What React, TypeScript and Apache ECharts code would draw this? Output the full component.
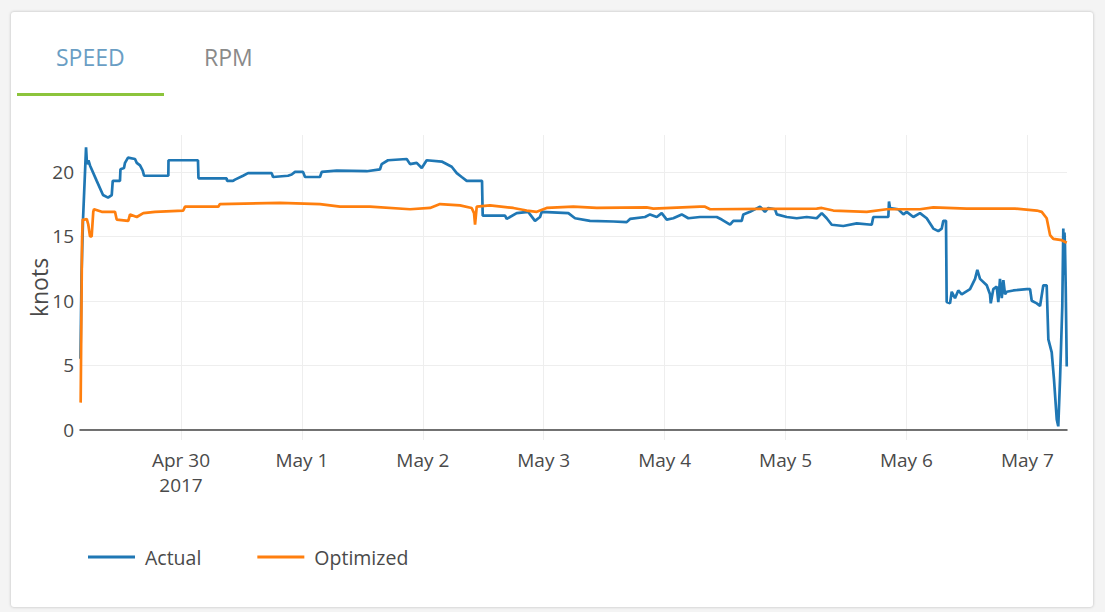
import React, { useEffect, useRef } from "react";
import * as echarts from "echarts";

const tabs = ["SPEED", "RPM"];
const yAxisTitle = "knots";
const seriesNames = ["Actual", "Optimized"];
const firstYear = "2017";
const xMin = "2017-04-29 03:57";
const xMax = "2017-05-07 07:52";
const yMin = -0.8;
const yMax = 22.86;
const monthNames = ["Jan", "Feb", "Mar", "Apr", "May", "Jun", "Jul", "Aug", "Sep", "Oct", "Nov", "Dec"];

const actual: [string, number][] = [
  ["2017-04-29 04:03", 5.5],
  ["2017-04-29 04:15", 12.0],
  ["2017-04-29 04:33", 16.3],
  ["2017-04-29 05:09", 21.9],
  ["2017-04-29 05:20", 20.6],
  ["2017-04-29 05:38", 20.9],
  ["2017-04-29 05:56", 20.5],
  ["2017-04-29 07:16", 19.3],
  ["2017-04-29 08:31", 18.2],
  ["2017-04-29 09:31", 18.0],
  ["2017-04-29 10:15", 18.2],
  ["2017-04-29 10:27", 19.3],
  ["2017-04-29 11:53", 19.3],
  ["2017-04-29 11:59", 20.2],
  ["2017-04-29 12:41", 20.3],
  ["2017-04-29 12:53", 20.7],
  ["2017-04-29 13:29", 21.1],
  ["2017-04-29 14:52", 21.0],
  ["2017-04-29 15:13", 20.7],
  ["2017-04-29 15:52", 20.5],
  ["2017-04-29 16:24", 20.1],
  ["2017-04-29 16:40", 19.7],
  ["2017-04-29 21:29", 19.7],
  ["2017-04-29 21:31", 20.9],
  ["2017-04-30 03:22", 20.9],
  ["2017-04-30 03:28", 19.5],
  ["2017-04-30 09:04", 19.5],
  ["2017-04-30 09:08", 19.3],
  ["2017-04-30 10:19", 19.3],
  ["2017-04-30 10:43", 19.4],
  ["2017-04-30 12:19", 19.7],
  ["2017-04-30 13:18", 19.9],
  ["2017-04-30 18:00", 19.9],
  ["2017-04-30 18:16", 19.6],
  ["2017-04-30 21:14", 19.7],
  ["2017-04-30 21:58", 19.8],
  ["2017-04-30 22:38", 20.0],
  ["2017-05-01 00:13", 20.0],
  ["2017-05-01 00:37", 19.6],
  ["2017-05-01 03:35", 19.6],
  ["2017-05-01 03:56", 20.0],
  ["2017-05-01 06:55", 20.1],
  ["2017-05-01 12:52", 20.05],
  ["2017-05-01 15:30", 20.2],
  ["2017-05-01 15:50", 20.6],
  ["2017-05-01 17:05", 20.9],
  ["2017-05-01 20:48", 21.0],
  ["2017-05-01 21:28", 20.6],
  ["2017-05-01 22:47", 20.7],
  ["2017-05-01 23:47", 20.3],
  ["2017-05-02 00:46", 20.9],
  ["2017-05-02 03:45", 20.8],
  ["2017-05-02 05:44", 20.4],
  ["2017-05-02 06:44", 19.9],
  ["2017-05-02 07:43", 19.6],
  ["2017-05-02 08:43", 19.3],
  ["2017-05-02 11:45", 19.3],
  ["2017-05-02 11:53", 16.6],
  ["2017-05-02 16:19", 16.6],
  ["2017-05-02 16:39", 16.35],
  ["2017-05-02 18:38", 16.8],
  ["2017-05-02 20:56", 16.9],
  ["2017-05-02 21:17", 16.7],
  ["2017-05-02 22:16", 16.2],
  ["2017-05-02 23:16", 16.5],
  ["2017-05-02 23:36", 16.9],
  ["2017-05-03 04:53", 16.8],
  ["2017-05-03 06:13", 16.4],
  ["2017-05-03 09:11", 16.2],
  ["2017-05-03 13:49", 16.15],
  ["2017-05-03 16:28", 16.1],
  ["2017-05-03 17:08", 16.35],
  ["2017-05-03 20:06", 16.5],
  ["2017-05-03 21:06", 16.7],
  ["2017-05-03 22:26", 16.5],
  ["2017-05-03 23:25", 16.8],
  ["2017-05-04 00:25", 16.3],
  ["2017-05-04 01:43", 16.4],
  ["2017-05-04 03:23", 16.7],
  ["2017-05-04 04:42", 16.4],
  ["2017-05-04 07:01", 16.5],
  ["2017-05-04 10:20", 16.5],
  ["2017-05-04 11:20", 16.3],
  ["2017-05-04 12:59", 15.9],
  ["2017-05-04 13:38", 16.2],
  ["2017-05-04 15:18", 16.2],
  ["2017-05-04 15:37", 16.7],
  ["2017-05-04 16:57", 16.9],
  ["2017-05-04 18:56", 17.3],
  ["2017-05-04 19:55", 16.9],
  ["2017-05-04 20:35", 17.2],
  ["2017-05-04 21:55", 17.1],
  ["2017-05-04 22:15", 16.7],
  ["2017-05-05 00:14", 16.5],
  ["2017-05-05 02:13", 16.4],
  ["2017-05-05 04:12", 16.5],
  ["2017-05-05 06:11", 16.4],
  ["2017-05-05 07:11", 16.8],
  ["2017-05-05 08:10", 16.4],
  ["2017-05-05 09:10", 15.9],
  ["2017-05-05 11:28", 15.8],
  ["2017-05-05 14:08", 16.0],
  ["2017-05-05 17:06", 15.9],
  ["2017-05-05 17:25", 16.5],
  ["2017-05-05 20:24", 16.5],
  ["2017-05-05 20:32", 17.7],
  ["2017-05-05 20:44", 17.2],
  ["2017-05-05 22:23", 17.1],
  ["2017-05-05 23:23", 16.7],
  ["2017-05-06 00:03", 16.9],
  ["2017-05-06 01:22", 16.5],
  ["2017-05-06 02:41", 16.8],
  ["2017-05-06 04:01", 16.4],
  ["2017-05-06 05:20", 15.6],
  ["2017-05-06 06:19", 15.4],
  ["2017-05-06 07:00", 15.6],
  ["2017-05-06 07:19", 16.2],
  ["2017-05-06 07:51", 16.2],
  ["2017-05-06 07:59", 9.9],
  ["2017-05-06 08:39", 9.8],
  ["2017-05-06 08:59", 10.7],
  ["2017-05-06 09:38", 10.2],
  ["2017-05-06 10:17", 10.8],
  ["2017-05-06 10:58", 10.5],
  ["2017-05-06 12:37", 10.9],
  ["2017-05-06 13:37", 11.7],
  ["2017-05-06 14:04", 12.4],
  ["2017-05-06 14:36", 11.7],
  ["2017-05-06 15:56", 11.2],
  ["2017-05-06 16:35", 10.5],
  ["2017-05-06 16:44", 9.8],
  ["2017-05-06 17:14", 10.9],
  ["2017-05-06 17:55", 11.1],
  ["2017-05-06 18:14", 9.9],
  ["2017-05-06 18:34", 11.7],
  ["2017-05-06 18:55", 10.2],
  ["2017-05-06 19:14", 11.6],
  ["2017-05-06 19:34", 10.5],
  ["2017-05-06 19:54", 10.7],
  ["2017-05-06 21:13", 10.8],
  ["2017-05-06 23:52", 10.9],
  ["2017-05-07 00:32", 10.9],
  ["2017-05-07 00:52", 10.0],
  ["2017-05-07 01:52", 9.8],
  ["2017-05-07 02:31", 9.6],
  ["2017-05-07 03:10", 11.2],
  ["2017-05-07 03:50", 11.2],
  ["2017-05-07 04:10", 7.0],
  ["2017-05-07 04:50", 6.0],
  ["2017-05-07 05:17", 3.9],
  ["2017-05-07 05:50", 0.8],
  ["2017-05-07 06:08", 0.26],
  ["2017-05-07 06:29", 3.9],
  ["2017-05-07 06:56", 9.6],
  ["2017-05-07 07:08", 15.6],
  ["2017-05-07 07:17", 12.0],
  ["2017-05-07 07:22", 15.3],
  ["2017-05-07 07:28", 14.3],
  ["2017-05-07 07:37", 10.9],
  ["2017-05-07 07:49", 4.9],
];

const optimized: [string, number][] = [
  ["2017-04-29 04:05", 2.1],
  ["2017-04-29 04:21", 14.6],
  ["2017-04-29 04:29", 16.3],
  ["2017-04-29 04:57", 16.3],
  ["2017-04-29 05:17", 16.35],
  ["2017-04-29 05:36", 15.9],
  ["2017-04-29 05:56", 15.0],
  ["2017-04-29 06:16", 15.0],
  ["2017-04-29 06:35", 16.9],
  ["2017-04-29 06:44", 17.1],
  ["2017-04-29 08:16", 16.9],
  ["2017-04-29 10:54", 16.9],
  ["2017-04-29 11:14", 16.3],
  ["2017-04-29 13:32", 16.2],
  ["2017-04-29 13:53", 16.7],
  ["2017-04-29 15:13", 16.5],
  ["2017-04-29 16:31", 16.8],
  ["2017-04-29 18:50", 16.9],
  ["2017-04-30 00:27", 17.0],
  ["2017-04-30 00:48", 17.3],
  ["2017-04-30 07:24", 17.3],
  ["2017-04-30 07:44", 17.5],
  ["2017-04-30 19:39", 17.6],
  ["2017-05-01 03:35", 17.5],
  ["2017-05-01 07:34", 17.3],
  ["2017-05-01 13:31", 17.3],
  ["2017-05-01 21:28", 17.1],
  ["2017-05-02 01:26", 17.2],
  ["2017-05-02 03:25", 17.5],
  ["2017-05-02 07:23", 17.4],
  ["2017-05-02 09:42", 17.2],
  ["2017-05-02 10:10", 16.8],
  ["2017-05-02 10:22", 15.9],
  ["2017-05-02 10:42", 17.3],
  ["2017-05-02 13:20", 17.4],
  ["2017-05-02 17:58", 17.2],
  ["2017-05-02 20:37", 17.0],
  ["2017-05-02 22:37", 16.9],
  ["2017-05-03 00:35", 17.2],
  ["2017-05-03 05:52", 17.3],
  ["2017-05-03 10:31", 17.2],
  ["2017-05-03 20:26", 17.25],
  ["2017-05-03 21:45", 17.15],
  ["2017-05-04 07:01", 17.3],
  ["2017-05-04 08:01", 17.3],
  ["2017-05-04 09:01", 17.1],
  ["2017-05-05 06:11", 17.15],
  ["2017-05-05 07:11", 17.2],
  ["2017-05-05 09:29", 17.0],
  ["2017-05-05 16:07", 16.9],
  ["2017-05-05 20:05", 17.1],
  ["2017-05-06 02:41", 17.1],
  ["2017-05-06 05:20", 17.25],
  ["2017-05-06 11:58", 17.15],
  ["2017-05-06 21:33", 17.15],
  ["2017-05-07 01:52", 17.0],
  ["2017-05-07 02:51", 16.9],
  ["2017-05-07 03:50", 16.4],
  ["2017-05-07 04:30", 15.1],
  ["2017-05-07 05:09", 14.8],
  ["2017-05-07 06:49", 14.7],
  ["2017-05-07 07:49", 14.5],
];

const FONT = "'Open Sans', sans-serif";

export default function App() {
  const ref = useRef<HTMLDivElement>(null);

  useEffect(() => {
    if (!ref.current) return;
    const chart = echarts.init(ref.current, undefined, { renderer: "svg" });
    const minT = echarts.time.parse(xMin).getTime();
    const labelFmt = (value: number) => {
      const d = new Date(value);
      if (d.getHours() !== 0 || d.getMinutes() !== 0) return "";
      const s = monthNames[d.getMonth()] + " " + d.getDate();
      const isFirst = value >= minT && value - minT < 86400000;
      return isFirst ? s + "\n" + firstYear : s;
    };
    chart.setOption({
      animation: false,
      backgroundColor: "transparent",
      textStyle: { fontFamily: FONT },
      grid: { left: 80, right: 38, top: 135, bottom: 172, containLabel: false },
      graphic: [
        {
          type: "text",
          left: 56,
          top: 45,
          style: { text: tabs[0], fill: "#6a9ec4", font: "23px 'Open Sans', sans-serif" },
        },
        {
          type: "text",
          left: 204,
          top: 45,
          style: { text: tabs[1], fill: "#8a8a8a", font: "23px 'Open Sans', sans-serif" },
        },
        {
          type: "rect",
          shape: { x: 17, y: 93, width: 147, height: 3 },
          style: { fill: "#8cc43c" },
        },
      ],
      legend: {
        left: 83,
        top: 542,
        icon: "rect",
        itemWidth: 47,
        itemHeight: 3,
        itemGap: 56,
        data: seriesNames,
        textStyle: { fontSize: 19.5, color: "#4a4a4a", fontFamily: FONT, padding: [0, 0, 0, 5] },
      },
      xAxis: {
        type: "time",
        min: minT,
        max: echarts.time.parse(xMax).getTime(),
        minInterval: 86400000,
        maxInterval: 86400000,
        axisLine: { show: true, onZero: true, lineStyle: { color: "#444", width: 1.5 } },
        axisTick: { show: false },
        splitLine: {
          show: true,
          showMinLine: false,
          showMaxLine: false,
          lineStyle: { color: "#eeeeee", width: 1 },
        },
        axisLabel: {
          formatter: labelFmt,
          color: "#4a4a4a",
          fontSize: 19,
          fontFamily: FONT,
          margin: 7,
          lineHeight: 25,
          showMinLabel: false,
          showMaxLabel: false,
          hideOverlap: false,
        },
      },
      yAxis: {
        type: "value",
        min: yMin,
        max: yMax,
        name: yAxisTitle,
        nameLocation: "middle",
        nameGap: 30,
        nameMoveOverlap: false,
        nameTextStyle: { fontSize: 23, color: "#4a4a4a", fontFamily: FONT },
        axisLine: { show: false },
        axisTick: { show: false },
        splitLine: {
          show: true,
          showMinLine: false,
          showMaxLine: false,
          lineStyle: { color: "#eeeeee", width: 1 },
        },
        axisLabel: {
          formatter: (v: number) => (Math.abs(v % 5) < 1e-9 ? String(v) : ""),
          color: "#4a4a4a",
          fontSize: 19,
          fontFamily: FONT,
          margin: 6,
          showMinLabel: false,
          showMaxLabel: false,
        },
      },
      series: [
        {
          name: seriesNames[0],
          type: "line",
          data: actual,
          symbol: "none",
          showSymbol: false,
          color: "#1f77b4",
          lineStyle: { color: "#1f77b4", width: 2.7 },
        },
        {
          name: seriesNames[1],
          type: "line",
          data: optimized,
          symbol: "none",
          showSymbol: false,
          color: "#ff7f0e",
          lineStyle: { color: "#ff7f0e", width: 2.7 },
        },
      ],
    });
    return () => chart.dispose();
  }, []);

  return (
    <div
      style={{
        position: "fixed",
        left: 0,
        top: 0,
        width: 1105,
        height: 612,
        background: "#f4f4f4",
        overflow: "hidden",
      }}
    >
      <div
        style={{
          position: "absolute",
          left: 11,
          top: 12,
          width: 1082,
          height: 595,
          background: "#ffffff",
          borderRadius: 3,
          boxShadow: "0 0 3px rgba(0,0,0,0.25)",
        }}
      />
      <div
        ref={ref}
        style={{ position: "absolute", left: 0, top: 0, width: 1105, height: 612 }}
      />
    </div>
  );
}
